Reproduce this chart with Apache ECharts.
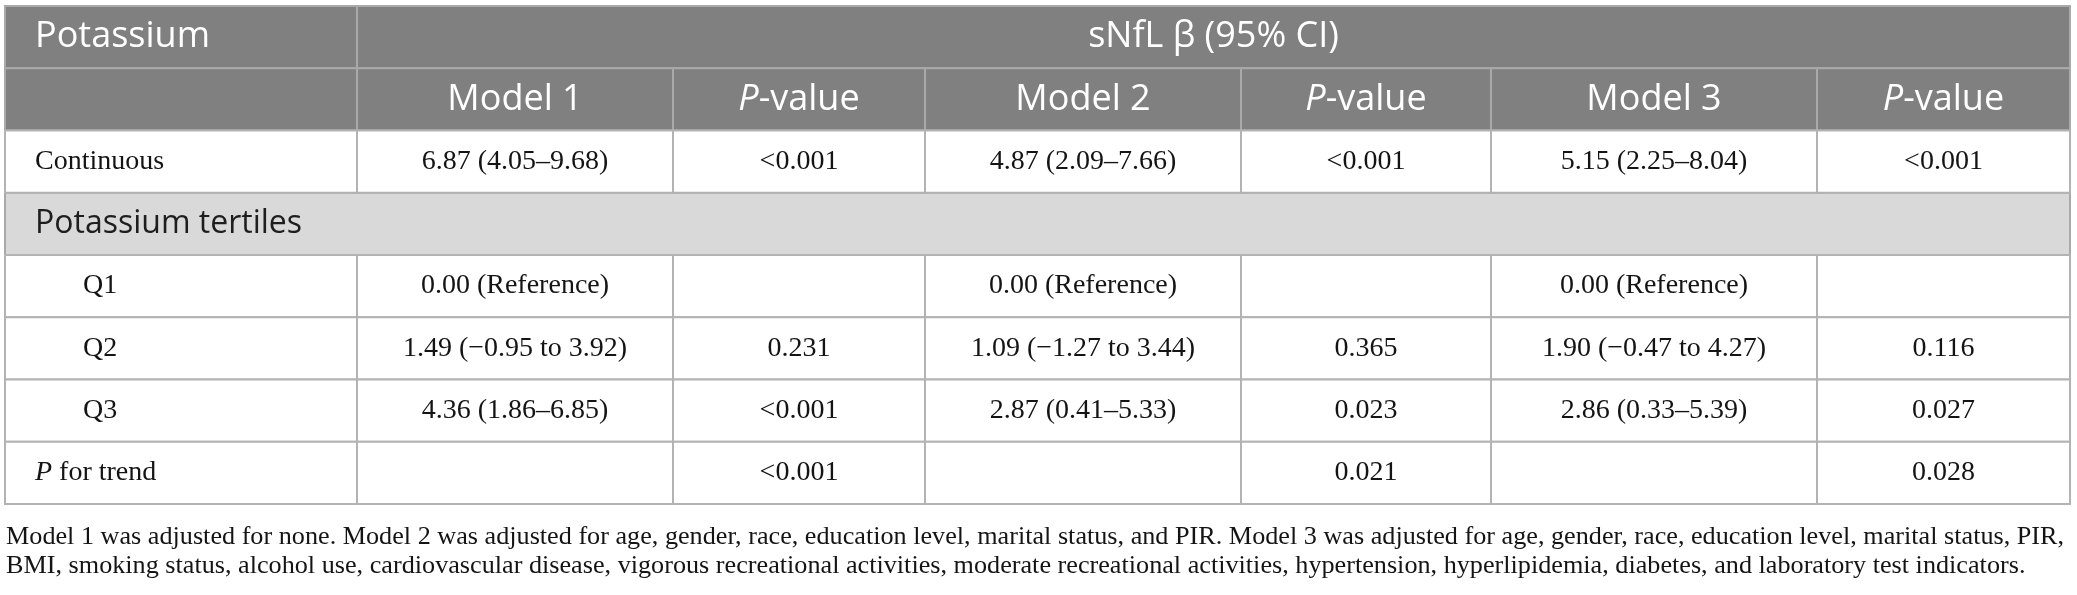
<!DOCTYPE html>
<html>
<head>
<meta charset="utf-8">
<title>Potassium and sNfL</title>
<script src="https://cdn.jsdelivr.net/npm/echarts@6/dist/echarts.min.js"></script>
<style>
html, body { margin: 0; padding: 0; background: #fff; }
#main { width: 2077px; height: 595px; }
</style>
</head>
<body>
<div id="main"></div>
<script>
// table text
var stubTitle = 'Potassium';
var groupTitle = 'sNfL β (95% CI)';
var columnTitles = ['Model 1', '{i|P}-value', 'Model 2', '{i|P}-value', 'Model 3', '{i|P}-value'];
var sectionTitle = 'Potassium tertiles';
var rowLabels = ['Continuous', 'Q1', 'Q2', 'Q3', '{i|P} for trend'];
var model1 = ['6.87 (4.05–9.68)', '0.00 (Reference)', '1.49 (−0.95 to 3.92)', '4.36 (1.86–6.85)', ''];
var pModel1 = ['<0.001', '', '0.231', '<0.001', '<0.001'];
var model2 = ['4.87 (2.09–7.66)', '0.00 (Reference)', '1.09 (−1.27 to 3.44)', '2.87 (0.41–5.33)', ''];
var pModel2 = ['<0.001', '', '0.365', '0.023', '0.021'];
var model3 = ['5.15 (2.25–8.04)', '0.00 (Reference)', '1.90 (−0.47 to 4.27)', '2.86 (0.33–5.39)', ''];
var pModel3 = ['<0.001', '', '0.116', '0.027', '0.028'];
var footnote = [
    'Model 1 was adjusted for none. Model 2 was adjusted for age, gender, race, education level, marital status, and PIR. Model 3 was adjusted for age, gender, race, education level, marital status, PIR,',
    'BMI, smoking status, alcohol use, cardiovascular disease, vigorous recreational activities, moderate recreational activities, hypertension, hyperlipidemia, diabetes, and laboratory test indicators.'
];

// layout
var colWidths = [352, 316, 252, 316, 250, 326, 253];
var colStart = [0];
colWidths.forEach(function (w, i) { colStart.push(colStart[i] + w); });
var totalWidth = colStart[colStart.length - 1];
var rowCount = 8;
var bodyRowAt = [2, 4, 5, 6, 7];   // table row of each body line
var indent = [30, 78, 78, 78, 30];

var sansFont = '"Open Sans", "Noto Sans", sans-serif';
var serifFont = '"Liberation Serif", "DejaVu Serif", serif';

// build the cell list
var cells = [];
cells.push({col: 0, row: 0, span: 1, text: stubTitle, kind: 'head', align: 'left', pad: 30});
cells.push({col: 1, row: 0, span: 6, text: groupTitle, kind: 'head'});
cells.push({col: 0, row: 1, span: 1, text: '', kind: 'head'});
columnTitles.forEach(function (t, i) {
    cells.push({col: i + 1, row: 1, span: 1, text: t, kind: 'head'});
});
cells.push({col: 0, row: 3, span: 7, text: sectionTitle, kind: 'section', align: 'left', pad: 30});
var cols = [model1, pModel1, model2, pModel2, model3, pModel3];
rowLabels.forEach(function (lab, r) {
    cells.push({col: 0, row: bodyRowAt[r], span: 1, text: lab, kind: 'body', align: 'left', pad: indent[r]});
    cols.forEach(function (arr, c) {
        cells.push({col: c + 1, row: bodyRowAt[r], span: 1, text: arr[r], kind: 'body'});
    });
});

var styles = {
    head: {fill: '#808080', stroke: '#a9a9a9', color: '#ffffff', font: sansFont, size: 36},
    section: {fill: '#d9d9d9', stroke: '#a9a9a9', color: '#1e1e1e', font: sansFont, size: 32},
    body: {fill: '#ffffff', stroke: '#b3b3b3', color: '#141414', font: serifFont, size: 28}
};

var myChart = echarts.init(document.getElementById('main'), null, {renderer: 'canvas'});

var option = {
    backgroundColor: '#ffffff',
    animation: false,
    grid: {left: 5, top: 6, width: totalWidth, height: 498},
    xAxis: {type: 'value', min: 0, max: totalWidth, show: false},
    yAxis: {type: 'value', min: 0, max: rowCount, inverse: true, show: false},
    series: [{
        type: 'custom',
        coordinateSystem: 'cartesian2d',
        data: cells.map(function (c) { return [colStart[c.col], c.row, colStart[c.col + c.span], c.row + 1]; }),
        encode: {x: [0, 2], y: [1, 3]},
        renderItem: function (params, api) {
            var cell = cells[params.dataIndex];
            var st = styles[cell.kind];
            var p0 = api.coord([api.value(0), api.value(1)]);
            var p1 = api.coord([api.value(2), api.value(3)]);
            var w = p1[0] - p0[0], h = p1[1] - p0[1];
            var left = cell.align === 'left';
            return {
                type: 'group',
                children: [{
                    type: 'rect',
                    shape: {x: p0[0], y: p0[1], width: w, height: h},
                    style: {fill: st.fill, stroke: st.stroke, lineWidth: 2}
                }, {
                    type: 'text',
                    x: left ? p0[0] + cell.pad : p0[0] + w / 2,
                    y: p0[1] + h / 2,
                    style: {
                        text: cell.text,
                        fill: st.color,
                        font: st.size + 'px ' + st.font,
                        align: left ? 'left' : 'center',
                        verticalAlign: 'middle',
                        rich: {
                            i: {fontStyle: 'italic', fontSize: st.size, fontFamily: st.font, fill: st.color, color: st.color}
                        }
                    }
                }]
            };
        }
    }],
    graphic: footnote.map(function (line, i) {
        return {
            type: 'text',
            left: 6,
            top: 524 + i * 29,
            style: {text: line, fill: '#141414', font: '26.2px ' + serifFont}
        };
    })
};
myChart.setOption(option);

window.onresize = function () {
    myChart.resize();
};
</script>
</body>
</html>
